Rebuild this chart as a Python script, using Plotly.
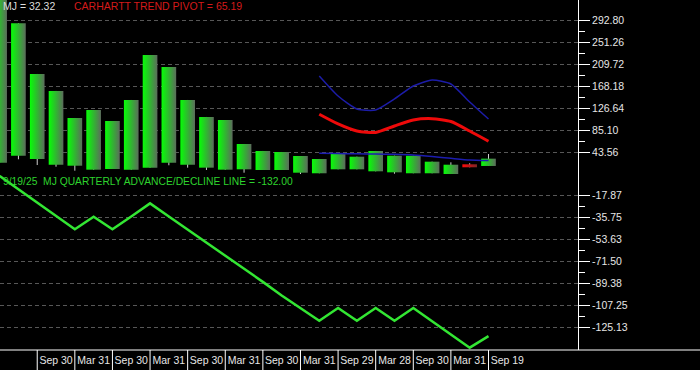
import plotly.graph_objects as go

# ---------------- data ----------------
bars = list(range(27))
opens  = [24.7, 37.9, 31.7, 20.9, 19.0, 11.5, 12.8, 11.5, 15.3, 24.7, 20.9, 15.3, 11.5, 12.2,
          10.9, 10.9, 5.8, 4.7, 12.2, 12.2, 8.4, 6.5, 4.7, 4.7, 3.3, 21.7, 18.5]
closes = [345.0, 287.9, 192.2, 160.1, 109.1, 124.2, 103.4, 143.1, 228.0, 205.4, 143.1, 111.0, 105.3, 60.0,
          46.8, 44.9, 37.3, 31.7, 41.1, 36.0, 46.8, 37.9, 37.9, 26.6, 20.9, 16.0, 32.32]
highs  = [345.0, 287.9, 192.2, 160.1, 109.1, 124.2, 103.4, 143.1, 228.0, 205.4, 143.1, 111.0, 105.3, 60.0,
          46.8, 44.9, 37.3, 31.7, 41.1, 36.0, 46.8, 37.9, 37.9, 26.6, 25.4, 23.6, 41.1]
lows   = [24.7, 31.1, 20.3, 17.1, 9.6, 11.5, 12.8, 11.5, 15.3, 19.8, 15.3, 10.9, 11.5, 5.8,
          10.9, 10.9, 3.3, 4.7, 12.2, 12.2, 8.4, 3.9, 4.7, 4.7, 3.3, 16.0, 18.5]

pivot_bars = list(range(17, 27))
upper_band = [188.4, 150.6, 126.1, 124.2, 145.0, 169.5, 180.8, 173.3, 139.3, 107.2]
pivot_line = [116.1, 97.8, 84.5, 81.7, 94.0, 105.3, 107.8, 102.5, 84.5, 65.19]
lower_band = [42.4, 42.1, 41.5, 41.1, 40.5, 39.2, 36.4, 33.0, 29.8, 28.8]

ad_line = [-2.2, -13.0, -24.0, -35.0, -45.4, -35.2, -45.4, -35.0, -24.4, -35.0, -45.5, -56.0, -67.0, -77.5,
           -88.0, -99.0, -109.6, -119.5, -109.2, -119.5, -109.2, -119.5, -109.2, -120.0, -131.0, -141.3, -132.0]

price_ticks = [43.56, 85.10, 126.64, 168.18, 209.72, 251.26, 292.80]
price_tick_text = ["43.56", "85.10", "126.64", "168.18", "209.72", "251.26", "292.80"]
ad_ticks = [-17.87, -35.75, -53.63, -71.50, -89.38, -107.25, -125.13]
ad_tick_text = ["-17.87", "-35.75", "-53.63", "-71.50", "-89.38", "-107.25", "-125.13"]

date_label_bars = [2, 4, 6, 8, 10, 12, 14, 16, 18, 20, 22, 24, 26]
date_labels = ["Sep 30", "Mar 31", "Sep 30", "Mar 31", "Sep 30", "Mar 31", "Sep 30",
               "Mar 31", "Sep 29", "Mar 28", "Sep 30", "Mar 31", "Sep 19"]

# ---------------- style ----------------
FONT = "Arial, Liberation Sans, sans-serif"
W, H = 700, 370
ML, MR, MT, MB = 0, 122, 0, 20
PH = H - MT - MB
GRID = "#575757"
TXT = "#e6e6e6"
XR = [0.02, 30.76]
HALF = 0.39

fig = go.Figure()

# wicks
wx, wy = [], []
for i, lo, hi in zip(bars, lows, highs):
    wx += [i, i, None]
    wy += [lo, hi, None]
fig.add_trace(go.Scatter(x=wx, y=wy, mode="lines", line=dict(color="#cfcfcf", width=1),
                         xaxis="x", yaxis="y", hoverinfo="skip", showlegend=False))

# candle bodies with horizontal gradient
for i, o, c in zip(bars, opens, closes):
    lo, hi = min(o, c), max(o, c)
    if c >= o:
        cs = [[0, "#06ff06"], [1, "#5c6c5c"]]
    else:
        cs = [[0, "#ff0a0a"], [1, "#7a2626"]]
    fig.add_trace(go.Scatter(
        x=[i - HALF, i + HALF, i + HALF, i - HALF, i - HALF],
        y=[lo, lo, hi, hi, lo],
        mode="lines", line=dict(width=0), fill="toself",
        fillgradient=dict(type="horizontal", colorscale=cs),
        xaxis="x", yaxis="y", hoverinfo="skip", showlegend=False))

# trend lines
fig.add_trace(go.Scatter(x=pivot_bars, y=upper_band, mode="lines",
                         line=dict(color="#1c1ca8", width=1.5, shape="spline", smoothing=0.6),
                         xaxis="x", yaxis="y", showlegend=False))
fig.add_trace(go.Scatter(x=pivot_bars, y=pivot_line, mode="lines",
                         line=dict(color="#ee0a0a", width=3, shape="spline", smoothing=0.6),
                         xaxis="x", yaxis="y", showlegend=False))
fig.add_trace(go.Scatter(x=pivot_bars, y=lower_band, mode="lines",
                         line=dict(color="#1c1cb0", width=1.5, shape="spline", smoothing=0.6),
                         xaxis="x", yaxis="y", showlegend=False))

# advance / decline line
fig.add_trace(go.Scatter(x=bars, y=ad_line, mode="lines",
                         line=dict(color="#33e633", width=2.5),
                         xaxis="x2", yaxis="y2", showlegend=False))

def mids(v):
    return [(a + b) / 2 for a, b in zip(v, v[1:])]

yax_common = dict(
    side="right", ticks="outside", ticklen=11, tickwidth=1, tickcolor="white",
    showline=True, linecolor="white", linewidth=1, zeroline=False,
    showgrid=True, gridcolor=GRID, griddash="4px,3px", gridwidth=1,
    tickfont=dict(family=FONT, size=10.5, color=TXT), fixedrange=True,
)

fig.update_layout(
    width=W, height=H,
    margin=dict(l=ML, r=MR, t=MT, b=MB, pad=0),
    paper_bgcolor="black", plot_bgcolor="black",
    showlegend=False,
    xaxis=dict(domain=[0, 1], anchor="y", range=XR, showticklabels=False, showgrid=False,
               zeroline=False, showline=False, ticks=""),
    yaxis=dict(domain=[0.5, 1], anchor="x", range=[1.45, 331.9],
               tickmode="array", tickvals=price_ticks, ticktext=price_tick_text,
               minor=dict(tickmode="array", tickvals=mids(price_ticks), ticks="outside",
                          ticklen=6, tickcolor="white", showgrid=False),
               **yax_common),
    xaxis2=dict(domain=[0, 1], anchor="y2", range=XR, showgrid=False, zeroline=False,
                showline=False, ticks="", ticklabelstandoff=2,
                tickmode="array", tickvals=[b + 1 for b in date_label_bars], ticktext=date_labels,
                tickfont=dict(family=FONT, size=10.5, color=TXT)),
    yaxis2=dict(domain=[0, 0.5], anchor="x2", range=[-143.2, -1.43],
                tickmode="array", tickvals=ad_ticks, ticktext=ad_tick_text,
                minor=dict(tickmode="array", tickvals=mids(ad_ticks), ticks="outside",
                           ticklen=6, tickcolor="white", showgrid=False),
                **yax_common),
)

shapes = [dict(type="line", xref="paper", yref="paper", x0=0, x1=W / (W - ML - MR),
               y0=0, y1=0, line=dict(color="white", width=1))]
for b in date_label_bars:
    shapes.append(dict(type="line", xref="x2", yref="paper", x0=b, x1=b,
                       y0=0, y1=-MB / PH, line=dict(color="white", width=1)))
fig.update_layout(shapes=shapes)

PW = W - ML - MR
def px_x(p):
    return p / PW
def px_y(p):
    return 1 - p / PH

fig.update_layout(annotations=[
    dict(text="MJ = 32.32", xref="paper", yref="paper", x=px_x(1), y=px_y(6),
         xanchor="left", yanchor="middle", showarrow=False,
         font=dict(family=FONT, size=10.5, color="#dcdcdc")),
    dict(text="CARHARTT TREND PIVOT = 65.19", xref="paper", yref="paper", x=px_x(71.5), y=px_y(6),
         xanchor="left", yanchor="middle", showarrow=False,
         font=dict(family=FONT, size=10.5, color="#d41a1a")),
    dict(text="9/19/25\u00a0 MJ QUARTERLY ADVANCE/DECLINE LINE = -132.00", xref="paper", yref="paper",
         x=px_x(0.5), y=px_y(181), xanchor="left", yanchor="middle", showarrow=False,
         font=dict(family=FONT, size=10.3, color="#2ed42e")),
])

fig.write_html("out.html")
